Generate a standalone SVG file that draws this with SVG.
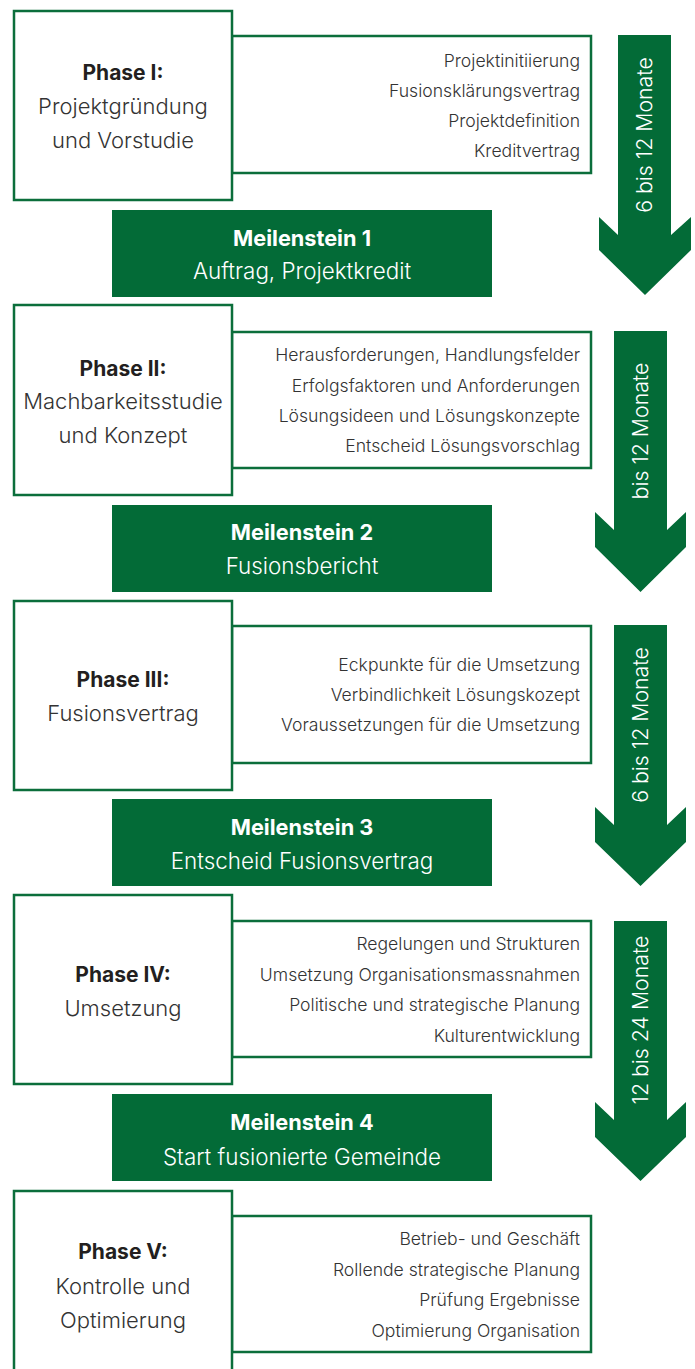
<svg xmlns="http://www.w3.org/2000/svg" width="695" height="1369" viewBox="0 0 695 1369">
<style>
.phase{fill:#fff;stroke:#0b6e3b;stroke-width:2.5}
.detail{fill:#fff;stroke:#0b6e3b;stroke-width:2.5}
.ms{fill:#036b37}
.arrow{fill:#036b37}
text{font-family:Inter,"Liberation Sans",sans-serif}
.pt{font-size:21px;font-weight:700;fill:#231f20;text-anchor:middle}
.pr{font-size:22px;font-weight:300;fill:#333;text-anchor:middle}
.dt{font-size:17.6px;font-weight:300;fill:#333;text-anchor:end}
.mt{font-size:21.7px;font-weight:700;fill:#fff;text-anchor:middle}
.mr{font-size:22.4px;font-weight:300;fill:#fff;text-anchor:middle}
.at{font-size:21.3px;font-weight:300;fill:#fff;text-anchor:middle}
</style>
<rect width="695" height="1369" fill="#fff"/>

<g id="connectors">
<polygon class="arrow" points="618,35 671,35 671,235 691,217 691,250 645,295 599,250 599,217 618,235"/>
<text class="at" transform="translate(652,135) rotate(-90)">6 bis 12 Monate</text>
<polygon class="arrow" points="614,331 667,331 667,530 686,512 686,547 640.5,592 595,547 595,512 614,530"/>
<text class="at" transform="translate(648,431) rotate(-90)">bis 12 Monate</text>
<polygon class="arrow" points="614,625 667,625 667,825 686,807 686,842 640.5,886 595,842 595,807 614,825"/>
<text class="at" transform="translate(648,725) rotate(-90)">6 bis 12 Monate</text>
<polygon class="arrow" points="614,921 667,921 667,1120 686,1102 686,1137 640.5,1181 595,1137 595,1102 614,1120"/>
<text class="at" transform="translate(648,1020) rotate(-90)">12 bis 24 Monate</text>
</g>

<g id="phase1">
<rect class="detail" x="232" y="36" width="359" height="137"/>
<rect class="phase" x="14" y="11" width="218" height="189"/>
<text class="pt" x="123" y="80">Phase I:</text>
<text class="pr" x="123" y="114">Projektgründung</text>
<text class="pr" x="123" y="148">und Vorstudie</text>
<text class="dt" x="580" y="67">Projektinitiierung</text>
<text class="dt" x="580" y="97">Fusionsklärungsvertrag</text>
<text class="dt" x="580" y="127">Projektdefinition</text>
<text class="dt" x="580" y="157">Kreditvertrag</text>
</g>

<g id="milestone1">
<rect class="ms" x="112" y="210" width="380" height="87"/>
<text class="mt" x="302" y="246">Meilenstein 1</text>
<text class="mr" x="302" y="279">Auftrag, Projektkredit</text>
</g>

<g id="phase2">
<rect class="detail" x="232" y="332" width="359" height="136"/>
<rect class="phase" x="14" y="305" width="218" height="190"/>
<text class="pt" x="123" y="376">Phase II:</text>
<text class="pr" x="123" y="409">Machbarkeitsstudie</text>
<text class="pr" x="123" y="443">und Konzept</text>
<text class="dt" x="580" y="361">Herausforderungen, Handlungsfelder</text>
<text class="dt" x="580" y="392">Erfolgsfaktoren und Anforderungen</text>
<text class="dt" x="580" y="422">Lösungsideen und Lösungskonzepte</text>
<text class="dt" x="580" y="452">Entscheid Lösungsvorschlag</text>
</g>

<g id="milestone2">
<rect class="ms" x="112" y="505" width="380" height="87"/>
<text class="mt" x="302" y="540">Meilenstein 2</text>
<text class="mr" x="302" y="574">Fusionsbericht</text>
</g>

<g id="phase3">
<rect class="detail" x="232" y="626" width="359" height="137"/>
<rect class="phase" x="14" y="601" width="218" height="189"/>
<text class="pt" x="123" y="687">Phase III:</text>
<text class="pr" x="123" y="721">Fusionsvertrag</text>
<text class="dt" x="580" y="671">Eckpunkte für die Umsetzung</text>
<text class="dt" x="580" y="701">Verbindlichkeit Lösungskozept</text>
<text class="dt" x="580" y="731">Voraussetzungen für die Umsetzung</text>
</g>

<g id="milestone3">
<rect class="ms" x="112" y="799" width="380" height="87"/>
<text class="mt" x="302" y="835">Meilenstein 3</text>
<text class="mr" x="302" y="869">Entscheid Fusionsvertrag</text>
</g>

<g id="phase4">
<rect class="detail" x="232" y="921" width="359" height="136"/>
<rect class="phase" x="14" y="895" width="218" height="189"/>
<text class="pt" x="123" y="982">Phase IV:</text>
<text class="pr" x="123" y="1016">Umsetzung</text>
<text class="dt" x="580" y="950">Regelungen und Strukturen</text>
<text class="dt" x="580" y="981">Umsetzung Organisationsmassnahmen</text>
<text class="dt" x="580" y="1011">Politische und strategische Planung</text>
<text class="dt" x="580" y="1042">Kulturentwicklung</text>
</g>

<g id="milestone4">
<rect class="ms" x="112" y="1094" width="380" height="87"/>
<text class="mt" x="302" y="1130">Meilenstein 4</text>
<text class="mr" x="302" y="1165">Start fusionierte Gemeinde</text>
</g>

<g id="phase5">
<rect class="detail" x="232" y="1216" width="359" height="136"/>
<rect class="phase" x="14" y="1191" width="218" height="200"/>
<text class="pt" x="123" y="1259">Phase V:</text>
<text class="pr" x="123" y="1294">Kontrolle und</text>
<text class="pr" x="123" y="1328">Optimierung</text>
<text class="dt" x="580" y="1245">Betrieb- und Geschäft</text>
<text class="dt" x="580" y="1276">Rollende strategische Planung</text>
<text class="dt" x="580" y="1306">Prüfung Ergebnisse</text>
<text class="dt" x="580" y="1337">Optimierung Organisation</text>
</g>
</svg>
